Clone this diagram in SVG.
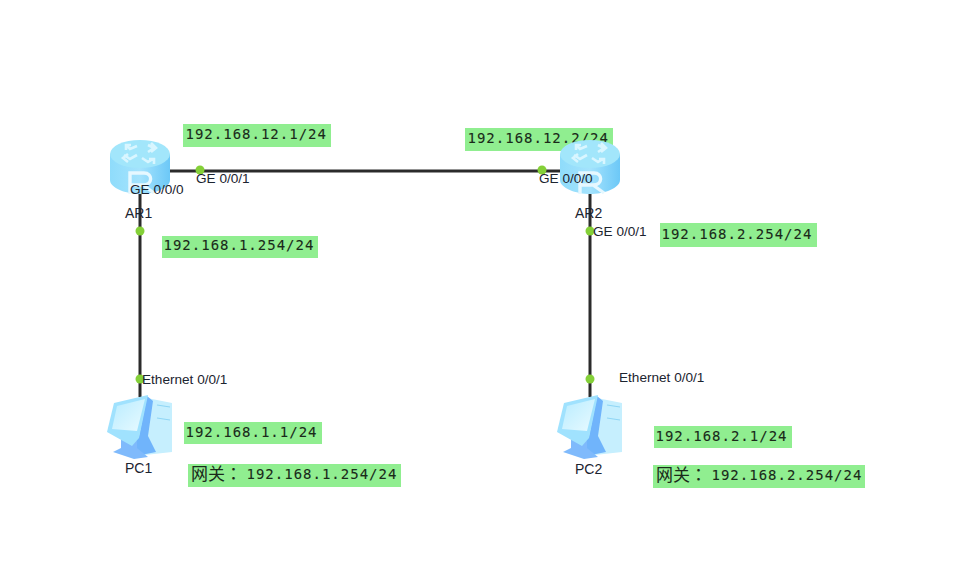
<svg xmlns="http://www.w3.org/2000/svg" width="953" height="573" viewBox="0 0 953 573">
<style>
.port{font:13.6px "Liberation Sans",Arial,sans-serif;fill:#1c2430}
.name{font:14px "Liberation Sans",Arial,sans-serif;fill:#1c2430}
.ip{font:14px "DejaVu Sans Mono",monospace;letter-spacing:1px;fill:#1a2a1a;stroke:#1a2a1a;stroke-width:.1}
.cjk{font:17px "Noto Sans CJK TC",sans-serif;fill:#1a2a1a}
.box{fill:#90ee90}
.wire{stroke:#2b2b2b;stroke-width:3;fill:none}
.dot{fill:#84d038}
</style>
<defs>
<linearGradient id="rb" x1="0" x2="1" y1="0" y2="0"><stop offset="0" stop-color="#8fdcfb"/><stop offset="0.5" stop-color="#a4e3fd"/><stop offset="1" stop-color="#6cc8f7"/></linearGradient>
<linearGradient id="scr" x1="0" x2="1" y1="0" y2="1"><stop offset="0" stop-color="#b8ecff"/><stop offset="1" stop-color="#e8faff"/></linearGradient>
<g id="router">
<path d="M-30 14V40C-30 48-14 54 0 54S30 48 30 40V14Z" fill="url(#rb)"/>
<ellipse cx="0" cy="14" rx="30" ry="14" fill="#a2e6fb"/>
<g fill="none" stroke="#d9f6ff" stroke-width="2.6">
<path d="M-3 6L-10 9L-14 5M-14 10V5H-9"/>
<path d="M3 12L9 8L3 5M6 3L11 8L6 12" transform="translate(5 0)"/>
<path d="M-3 15L-10 19L-16 15M-12 14L-17 18L-12 22"/>
<path d="M3 16L9 20L14 17M15 22V17H10" transform="translate(-1 2)"/>
</g>
<path d="M-10 54V33H4C13 33 13 45 3 45H-10M3 45L14 53" fill="none" stroke="#e6f8ff" stroke-width="3.4"/>
</g>
<g id="pc">
<path d="M147 398L172 403V452L136 456L128 448L140 434Z" fill="#c6effe"/>
<path d="M157 405L170 407M157 418L170 420" stroke="#8fd6f5" stroke-width="1.2" fill="none"/>
<path d="M147 396L153 401L148 436L156 452L136 456L127 444L139 436Z" fill="#70b4fb"/>
<path d="M121 439V448L113 452L134 459L148 457L137 448V441Z" fill="#7fbafc"/>
<path d="M114 403L148 395L139 438L132 446L107 432Z" fill="#a0e2fe"/>
<path d="M117 406L145 399L137 431L112 429Z" fill="url(#scr)"/>
</g>
</defs>
<rect width="953" height="573" fill="#fff"/>
<g id="address-labels">
<rect class="box" x="183" y="124" width="148" height="23"/><text class="ip" x="185.500" y="139">192.168.12.1/24</text>
<rect class="box" x="465" y="128" width="148" height="23"/><text class="ip" x="467.500" y="143">192.168.12.2/24</text>
<rect class="box" x="162" y="236" width="156" height="22"/><text class="ip" x="163.500" y="250">192.168.1.254/24</text>
<rect class="box" x="660" y="223" width="157" height="24"/><text class="ip" x="661.500" y="239">192.168.2.254/24</text>
<rect class="box" x="184" y="422" width="138" height="22"/><text class="ip" x="185.500" y="437">192.168.1.1/24</text>
<rect class="box" x="654" y="426" width="138" height="22"/><text class="ip" x="655.500" y="441">192.168.2.1/24</text>
<rect class="box" x="188" y="464" width="213" height="23"/><text class="cjk" x="191" y="480">网关：</text><text class="ip" x="246.500" y="479">192.168.1.254/24</text>
<rect class="box" x="653" y="465" width="212" height="23"/><text class="cjk" x="656" y="481">网关：</text><text class="ip" x="711.500" y="480">192.168.2.254/24</text>
</g>
<g id="connectors">
<path class="wire" d="M168 171H562"/>
<path class="wire" d="M140 192V397"/>
<path class="wire" d="M590 192V397"/>
<circle class="dot" cx="200" cy="170" r="4.5"/>
<circle class="dot" cx="542" cy="170" r="4.5"/>
<circle class="dot" cx="140" cy="231" r="4.5"/>
<circle class="dot" cx="590" cy="231" r="4.5"/>
<circle class="dot" cx="140" cy="379" r="4.5"/>
<circle class="dot" cx="590" cy="379" r="4.5"/>
</g>
<g id="AR1"><use href="#router" x="140" y="140"/><text class="name" x="125" y="218">AR1</text></g>
<g id="AR2"><use href="#router" x="590" y="140"/><text class="name" x="575" y="218">AR2</text></g>
<g id="PC1"><use href="#pc"/><text class="name" x="125" y="473">PC1</text></g>
<g id="PC2"><use href="#pc" x="450"/><text class="name" x="575" y="474">PC2</text></g>
<g id="port-labels">
<text class="port" x="196" y="183">GE 0/0/1</text>
<text class="port" x="130" y="194">GE 0/0/0</text>
<text class="port" x="539" y="183">GE 0/0/0</text>
<text class="port" x="593" y="236">GE 0/0/1</text>
<text class="port" x="142" y="384">Ethernet 0/0/1</text>
<text class="port" x="619" y="382">Ethernet 0/0/1</text>
</g>
</svg>
